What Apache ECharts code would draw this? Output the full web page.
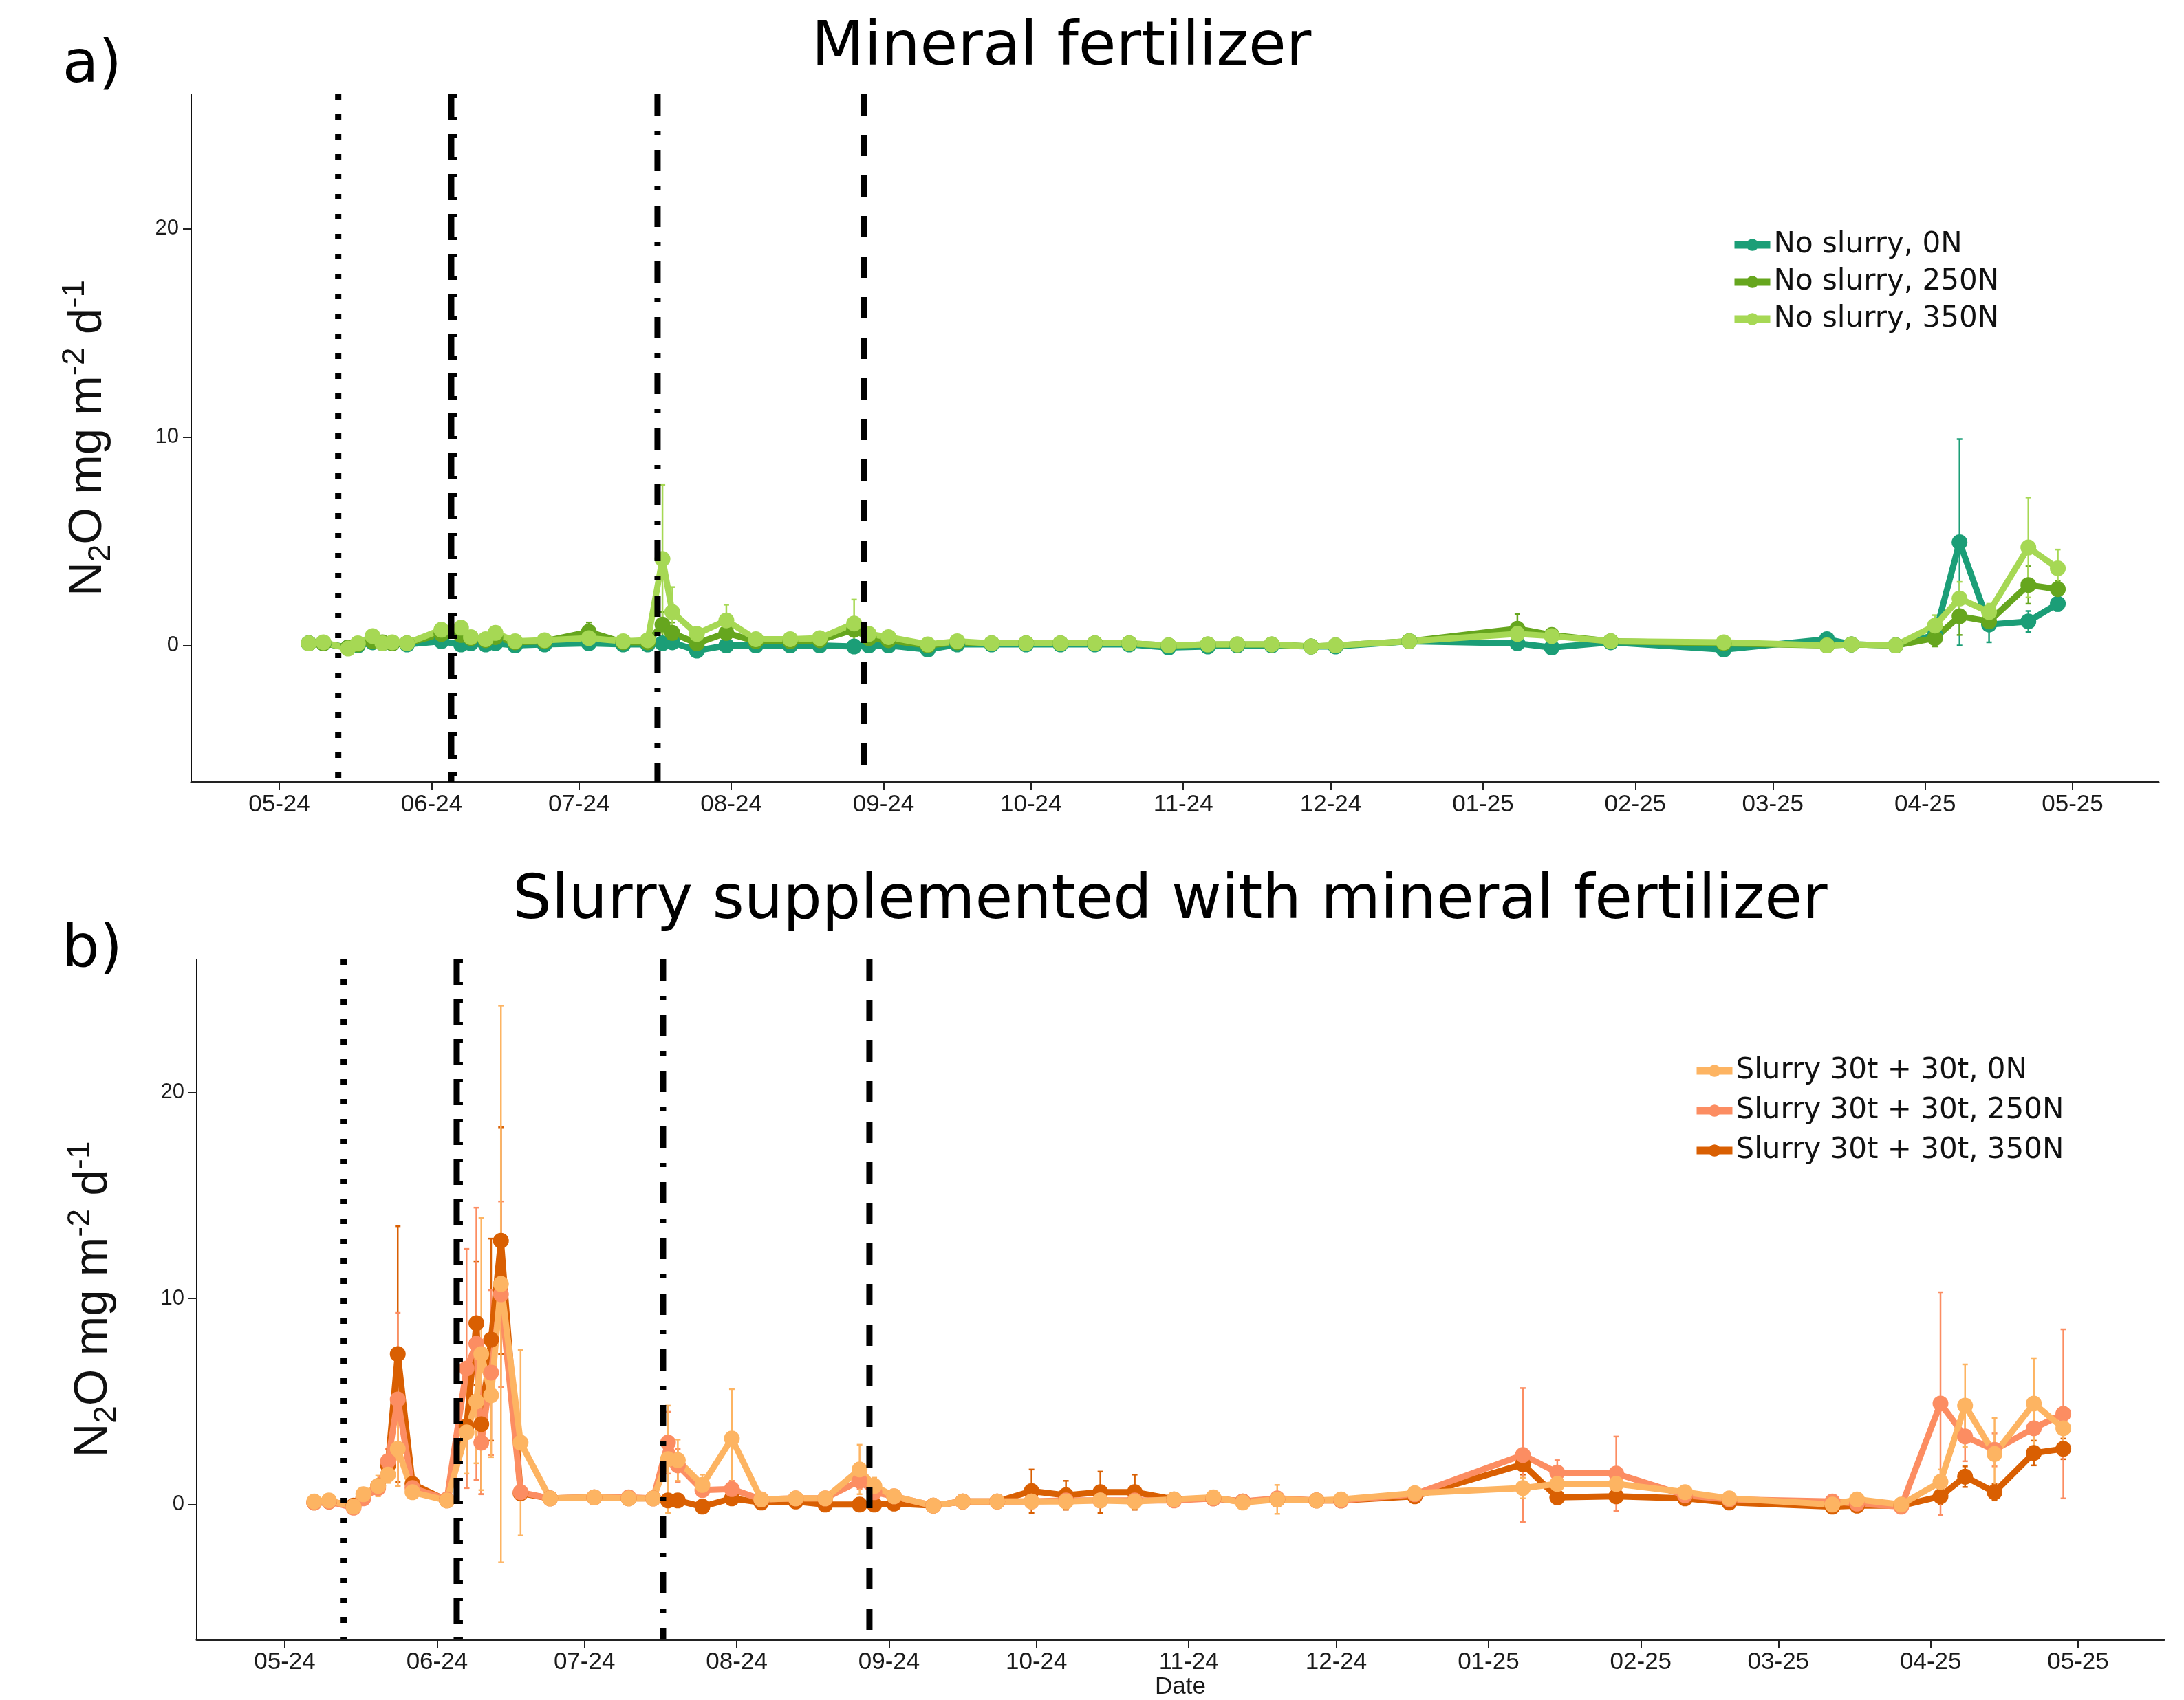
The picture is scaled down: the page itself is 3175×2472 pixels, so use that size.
<!DOCTYPE html>
<html>
<head>
<meta charset="utf-8">
<title>N2O fluxes</title>
<script src="https://cdn.jsdelivr.net/npm/echarts@6/dist/echarts.min.js"></script>
<style>
html, body { margin: 0; padding: 0; background: #fff; }
#chart { width: 3175px; height: 2472px; }
</style>
</head>
<body>
<div id="chart"></div>
<script>
// ---- data: panel a) mineral fertilizer ----
var datesMineral = ['2024-05-07','2024-05-10','2024-05-15','2024-05-17','2024-05-20','2024-05-22','2024-05-24','2024-05-27',
  '2024-06-03','2024-06-07','2024-06-09','2024-06-12','2024-06-14','2024-06-18','2024-06-24',
  '2024-07-03','2024-07-10','2024-07-15','2024-07-18','2024-07-20','2024-07-25','2024-07-31',
  '2024-08-06','2024-08-13','2024-08-19','2024-08-26','2024-08-29',
  '2024-09-02','2024-09-10','2024-09-16','2024-09-23','2024-09-30',
  '2024-10-07','2024-10-14','2024-10-21','2024-10-29',
  '2024-11-06','2024-11-12','2024-11-19','2024-11-27',
  '2024-12-02','2024-12-17',
  '2025-01-08','2025-01-15','2025-01-27',
  '2025-02-19',
  '2025-03-12','2025-03-17','2025-03-26',
  '2025-04-03','2025-04-08','2025-04-14','2025-04-22','2025-04-28'];
var noSlurry0N = [0.1,0.1,-0.1,0.0,0.15,0.1,0.1,0.05, 0.2,0.05,0.1,0.05,0.1,0.0,0.05,
  0.1,0.05,0.05,0.1,0.15,-0.25,0.0, 0.0,0.0,0.0,-0.05,0.0, 0.0,-0.2,0.05,0.05,0.05,
  0.05,0.05,0.05,-0.1, -0.05,0.0,0.0,-0.05, -0.05,0.2, 0.1,-0.1,0.15, -0.2,
  0.3,0.05,0.0, 0.5,4.95,1.0,1.15,2.0];
var noSlurry250N = [0.1,0.1,-0.1,0.05,0.2,0.15,0.1,0.1, 0.55,0.5,0.35,0.25,0.4,0.15,0.2,
  0.65,0.15,0.15,1.0,0.6,0.1,0.6, 0.2,0.2,0.25,0.75,0.35, 0.25,0.0,0.15,0.1,0.1,
  0.1,0.1,0.1,0.0, 0.05,0.05,0.05,-0.05, 0.0,0.2, 0.8,0.5,0.2, 0.1,
  0.0,0.05,0.0, 0.35,1.4,1.15,2.9,2.7];
var noSlurry350N = [0.1,0.15,-0.15,0.1,0.45,0.1,0.15,0.1, 0.75,0.85,0.4,0.3,0.6,0.2,0.25,
  0.35,0.2,0.25,4.15,1.6,0.55,1.2, 0.3,0.3,0.35,1.05,0.55, 0.4,0.05,0.2,0.1,0.1,
  0.1,0.1,0.1,0.0, 0.05,0.05,0.05,-0.05, 0.0,0.2, 0.55,0.45,0.2, 0.15,
  0.0,0.05,0.0, 0.95,2.25,1.6,4.7,3.7];
var seNoSlurry0N = [0.05,0.05,0.05,0.05,0.1,0.05,0.05,0.05, 0.1,0.05,0.05,0.05,0.05,0.05,0.05,
  0.05,0.05,0.05,0.1,0.1,0.1,0.05, 0.05,0.05,0.05,0.05,0.05, 0.05,0.1,0.05,0.05,0.05,
  0.05,0.05,0.05,0.05, 0.05,0.05,0.05,0.05, 0.05,0.05, 0.1,0.1,0.1, 0.1,
  0.15,0.05,0.05, 0.4,4.95,0.85,0.5,0.35];
var seNoSlurry250N = [0.05,0.05,0.05,0.05,0.1,0.05,0.05,0.05, 0.2,0.15,0.1,0.1,0.1,0.05,0.05,
  0.45,0.1,0.05,0.6,0.5,0.15,0.3, 0.1,0.1,0.1,0.5,0.15, 0.1,0.05,0.05,0.05,0.05,
  0.05,0.05,0.05,0.05, 0.05,0.05,0.05,0.05, 0.05,0.1, 0.7,0.3,0.1, 0.1,
  0.05,0.05,0.05, 0.4,0.9,0.3,0.9,0.4];
var seNoSlurry350N = [0.05,0.05,0.05,0.05,0.15,0.05,0.05,0.05, 0.3,0.2,0.1,0.1,0.15,0.05,0.05,
  0.2,0.1,0.1,3.55,1.2,0.3,0.75, 0.1,0.1,0.1,1.15,0.2, 0.15,0.05,0.05,0.05,0.05,
  0.05,0.05,0.05,0.05, 0.05,0.05,0.05,0.05, 0.05,0.1, 0.3,0.2,0.1, 0.1,
  0.05,0.05,0.05, 0.5,0.8,0.4,2.4,0.9];

// ---- data: panel b) slurry + mineral fertilizer ----
var datesSlurry = ['2024-05-07','2024-05-10','2024-05-15','2024-05-17','2024-05-20','2024-05-22','2024-05-24','2024-05-27',
  '2024-06-03','2024-06-07','2024-06-09','2024-06-10','2024-06-12','2024-06-14','2024-06-18','2024-06-24',
  '2024-07-03','2024-07-10','2024-07-15','2024-07-18','2024-07-20','2024-07-25','2024-07-31',
  '2024-08-06','2024-08-13','2024-08-19','2024-08-26','2024-08-29',
  '2024-09-02','2024-09-10','2024-09-16','2024-09-23','2024-09-30',
  '2024-10-07','2024-10-14','2024-10-21','2024-10-29',
  '2024-11-06','2024-11-12','2024-11-19','2024-11-27',
  '2024-12-02','2024-12-17',
  '2025-01-08','2025-01-15','2025-01-27',
  '2025-02-10','2025-02-19',
  '2025-03-12','2025-03-17','2025-03-26',
  '2025-04-03','2025-04-08','2025-04-14','2025-04-22','2025-04-28'];
var slurry0N = [0.15,0.2,-0.1,0.5,0.9,1.45,2.7,0.6, 0.2,3.5,5.0,7.3,5.3,10.7,3.0,0.3,
  0.35,0.3,0.3,2.2,2.15,0.95,3.2, 0.25,0.3,0.3,1.7,0.9, 0.4,-0.05,0.15,0.15,0.15,
  0.15,0.2,0.15,0.25, 0.35,0.1,0.25,0.2, 0.25,0.55, 0.8,1.0,1.0, 0.6,0.3,
  0.0,0.25,0.0, 1.1,4.8,2.45,4.9,3.7];
var slurry250N = [0.1,0.15,-0.15,0.3,0.8,2.1,5.1,0.8, 0.25,6.6,7.8,3.0,6.4,10.2,0.6,0.3,
  0.35,0.35,0.3,3.0,1.9,0.7,0.75, 0.25,0.3,0.3,1.15,0.6, 0.4,-0.05,0.15,0.15,0.15,
  0.2,0.2,0.2,0.2, 0.3,0.15,0.3,0.2, 0.2,0.5, 2.4,1.55,1.5, 0.45,0.25,
  0.15,0.05,-0.1, 4.9,3.3,2.65,3.7,4.4];
var slurry350N = [0.1,0.15,-0.05,0.35,0.9,1.9,7.3,1.0, 0.2,3.8,8.8,3.9,8.0,12.8,0.55,0.3,
  0.35,0.3,0.3,0.2,0.2,-0.1,0.3, 0.1,0.15,0.0,0.0,0.0, 0.05,-0.05,0.15,0.15,0.65,
  0.45,0.6,0.6,0.25, 0.3,0.15,0.25,0.2, 0.2,0.4, 1.95,0.35,0.4, 0.3,0.1,
  -0.1,-0.05,-0.05, 0.4,1.35,0.6,2.5,2.7];
var seSlurry0N = [0.1,0.3,0.1,0.3,0.5,0.4,1.8,0.3, 0.1,2.0,3.0,6.6,3.0,13.5,4.5,0.1,
  0.1,0.1,0.1,2.6,1.0,0.5,2.4, 0.1,0.1,0.1,1.2,0.4, 0.2,0.1,0.1,0.1,0.1,
  0.1,0.1,0.1,0.1, 0.3,0.1,0.7,0.1, 0.1,0.3, 0.5,0.4,0.4, 0.3,0.2,
  0.1,0.2,0.1, 0.6,2.0,1.75,2.2,1.0];
var seSlurry250N = [0.1,0.2,0.1,0.2,0.3,0.6,4.2,0.4, 0.1,5.8,6.6,2.5,4.0,4.5,0.4,0.1,
  0.1,0.1,0.1,1.5,0.8,0.3,0.4, 0.1,0.1,0.1,0.4,0.3, 0.2,0.1,0.1,0.1,0.1,
  0.1,0.1,0.1,0.1, 0.1,0.1,0.2,0.1, 0.1,0.2, 3.25,0.6,1.8, 0.2,0.1,
  0.1,0.1,0.1, 5.4,1.2,0.8,1.2,4.1];
var seSlurry350N = [0.1,0.1,0.1,0.2,0.3,0.5,6.2,0.3, 0.1,3.0,3.0,3.4,4.9,5.5,0.3,0.1,
  0.1,0.1,0.1,0.2,0.1,0.1,0.2, 0.1,0.1,0.1,0.1,0.1, 0.1,0.1,0.1,0.1,1.05,
  0.7,1.0,0.85,0.2, 0.1,0.1,0.1,0.1, 0.1,0.2, 0.5,0.3,0.3, 0.3,0.1,
  0.1,0.1,0.1, 0.4,0.5,0.4,0.6,0.5];

// field operations (vertical reference lines) and axis ticks
var eventDates = ['2024-05-13','2024-06-05','2024-07-17','2024-08-28'];
var eventKinds = ['dotted','bracket','dotdash','dashed'];
var monthTicks = ['2024-05-01','2024-06-01','2024-07-01','2024-08-01','2024-09-01','2024-10-01','2024-11-01',
  '2024-12-01','2025-01-01','2025-02-01','2025-03-01','2025-04-01','2025-05-01'];
var yTicks = [0, 10, 20];
var Y_MIN = -6.55, Y_MAX = 26.45;
var X_MIN = '2024-04-13T02:00:00', X_MAX = '2025-05-18T12:00:00';

var namesTop = ['No slurry, 0N', 'No slurry, 250N', 'No slurry, 350N'];
var namesBottom = ['Slurry 30t + 30t, 0N', 'Slurry 30t + 30t, 250N', 'Slurry 30t + 30t, 350N'];
var colorsTop = ['#1b9e77', '#66a61e', '#a6d854'];
var colorsBottom = ['#fdb462', '#fc8d62', '#d95f02'];

function ts(d) { return +echarts.time.parse(d); }
function pairs(dates, vals) {
  return dates.map(function(d, i) { return [ts(d), vals[i]]; });
}
function bars(dates, vals, se) {
  return dates.map(function(d, i) { return [ts(d), vals[i] - se[i], vals[i] + se[i]]; });
}
function pad(n) { return n < 10 ? '0' + n : '' + n; }

function renderErrorBar(params, api) {
  var lo = api.coord([api.value(0), api.value(1)]);
  var hi = api.coord([api.value(0), api.value(2)]);
  var st = { stroke: api.visual('color'), lineWidth: 2.5 };
  var c = 4;
  return { type: 'group', children: [
    { type: 'line', shape: { x1: lo[0], y1: lo[1], x2: hi[0], y2: hi[1] }, style: st },
    { type: 'line', shape: { x1: lo[0] - c, y1: lo[1], x2: lo[0] + c, y2: lo[1] }, style: st },
    { type: 'line', shape: { x1: hi[0] - c, y1: hi[1], x2: hi[0] + c, y2: hi[1] }, style: st }
  ]};
}

function renderEvent(params, api) {
  var kind = eventKinds[params.dataIndex];
  var top = api.coord([api.value(0), Y_MAX]);
  var bot = api.coord([api.value(0), Y_MIN]);
  var x = top[0];
  var dash = { dotted: [8, 21], bracket: [38, 20], dotdash: [31, 22, 6, 22], dashed: [31, 28] }[kind];
  var kids = [{ type: 'line', shape: { x1: x, y1: top[1], x2: x, y2: bot[1] },
    style: { stroke: '#000', lineWidth: 9, lineDash: dash, lineCap: 'butt' } }];
  if (kind === 'bracket') {
    kids.push({ type: 'line', shape: { x1: x + 6, y1: top[1], x2: x + 6, y2: bot[1] },
      style: { stroke: '#000', lineWidth: 6, lineDash: [5, 28, 5, 20], lineCap: 'butt' } });
  }
  return { type: 'group', children: kids };
}

var chart = echarts.init(document.getElementById('chart'));
var tickValues = monthTicks.map(ts);

function xAxisFor(gi, withName) {
  return {
    type: 'value', gridIndex: gi, min: ts(X_MIN), max: ts(X_MAX),
    name: withName ? 'Date' : '', nameLocation: 'middle', nameGap: 46,
    nameTextStyle: { fontFamily: 'Liberation Sans', fontSize: 35, color: '#1a1a1a' },
    axisLine: { onZero: false, lineStyle: { color: '#222', width: 3 } },
    axisTick: { show: true, length: 12, customValues: tickValues, lineStyle: { color: '#222', width: 2 } },
    axisLabel: { customValues: tickValues, margin: 16, fontFamily: 'Liberation Sans', fontSize: 35, color: '#1a1a1a',
      formatter: function(v) { var d = new Date(v); return pad(d.getMonth() + 1) + '-' + String(d.getFullYear()).slice(2); } },
    splitLine: { show: false }
  };
}
function yAxisFor(gi) {
  return {
    type: 'value', gridIndex: gi, min: Y_MIN, max: Y_MAX,
    name: '{n|N}{s|2}{n|O mg m}{p|-2}{n| d}{p|-1}', nameLocation: 'middle', nameRotate: 90, nameGap: 108,
    nameTextStyle: { fontFamily: 'Liberation Sans', color: '#111',
      rich: {
        n: { fontFamily: 'Liberation Sans', fontSize: 69, lineHeight: 84, color: '#111' },
        s: { fontFamily: 'Liberation Sans', fontSize: 46, lineHeight: 46, verticalAlign: 'bottom', color: '#111' },
        p: { fontFamily: 'Liberation Sans', fontSize: 46, lineHeight: 46, verticalAlign: 'top', color: '#111' }
      } },
    axisLine: { show: true, lineStyle: { color: '#111', width: 2 } },
    axisTick: { show: true, length: 12, customValues: yTicks, lineStyle: { color: '#222', width: 2 } },
    axisLabel: { customValues: yTicks, margin: 18, fontFamily: 'Liberation Sans', fontSize: 31, color: '#1a1a1a' },
    splitLine: { show: false }
  };
}

function lineSeries(name, gi, color, dates, vals) {
  return {
    name: name, type: 'line', xAxisIndex: gi, yAxisIndex: gi,
    data: pairs(dates, vals), symbol: 'circle', symbolSize: 23, showSymbol: true,
    lineStyle: { width: 9, color: color }, itemStyle: { color: color },
    emphasis: { disabled: true }, animation: false
  };
}
function errSeries(name, gi, color, dates, vals, se) {
  return {
    name: name, type: 'custom', xAxisIndex: gi, yAxisIndex: gi,
    data: bars(dates, vals, se), encode: { x: 0, y: [1, 2] },
    itemStyle: { color: color }, renderItem: renderErrorBar, silent: true, animation: false, z: 3
  };
}
function eventSeries(gi) {
  return {
    type: 'custom', xAxisIndex: gi, yAxisIndex: gi, silent: true, animation: false, z: 4,
    data: eventDates.map(function(d) { return [ts(d), Y_MIN, Y_MAX]; }), encode: { x: 0, y: [1, 2] },
    renderItem: renderEvent
  };
}

var legendBase = {
  orient: 'vertical', itemWidth: 52, itemHeight: 22,
  textStyle: { fontFamily: 'DejaVu Sans', fontSize: 42, color: '#111' },
  lineStyle: { width: 11 }, selectedMode: false
};

var option = {
  backgroundColor: '#fff',
  animation: false,
  tooltip: { show: false },
  grid: [
    { left: 278, top: 137, width: 2860, height: 1000 },
    { left: 286, top: 1395, width: 2860, height: 1000 }
  ],
  xAxis: [xAxisFor(0, false), xAxisFor(1, true)],
  yAxis: [yAxisFor(0), yAxisFor(1)],
  legend: [
    Object.assign({}, legendBase, { data: namesTop, left: 2511, top: 330, itemGap: 12 }),
    Object.assign({}, legendBase, { data: namesBottom, left: 2456, top: 1531, itemGap: 16 })
  ],
  graphic: [
    { type: 'text', x: 1543, y: 71, style: { text: 'Mineral fertilizer', fontFamily: 'DejaVu Sans', fontSize: 89, fill: '#000', align: 'center', verticalAlign: 'middle' } },
    { type: 'text', x: 1701, y: 1312, style: { text: 'Slurry supplemented with mineral fertilizer', fontFamily: 'DejaVu Sans', fontSize: 89, fill: '#000', align: 'center', verticalAlign: 'middle' } },
    { type: 'text', x: 134, y: 97, style: { text: 'a)', fontFamily: 'DejaVu Sans', fontSize: 86, fill: '#000', align: 'center', verticalAlign: 'middle' } },
    { type: 'text', x: 134, y: 1383, style: { text: 'b)', fontFamily: 'DejaVu Sans', fontSize: 86, fill: '#000', align: 'center', verticalAlign: 'middle' } }
  ],
  series: [
    lineSeries(namesTop[0], 0, colorsTop[0], datesMineral, noSlurry0N),
    lineSeries(namesTop[1], 0, colorsTop[1], datesMineral, noSlurry250N),
    lineSeries(namesTop[2], 0, colorsTop[2], datesMineral, noSlurry350N),
    errSeries(namesTop[0], 0, colorsTop[0], datesMineral, noSlurry0N, seNoSlurry0N),
    errSeries(namesTop[1], 0, colorsTop[1], datesMineral, noSlurry250N, seNoSlurry250N),
    errSeries(namesTop[2], 0, colorsTop[2], datesMineral, noSlurry350N, seNoSlurry350N),
    eventSeries(0),
    lineSeries(namesBottom[2], 1, colorsBottom[2], datesSlurry, slurry350N),
    lineSeries(namesBottom[1], 1, colorsBottom[1], datesSlurry, slurry250N),
    lineSeries(namesBottom[0], 1, colorsBottom[0], datesSlurry, slurry0N),
    errSeries(namesBottom[2], 1, colorsBottom[2], datesSlurry, slurry350N, seSlurry350N),
    errSeries(namesBottom[1], 1, colorsBottom[1], datesSlurry, slurry250N, seSlurry250N),
    errSeries(namesBottom[0], 1, colorsBottom[0], datesSlurry, slurry0N, seSlurry0N),
    eventSeries(1)
  ]
};
chart.setOption(option);
</script>
</body>
</html>
